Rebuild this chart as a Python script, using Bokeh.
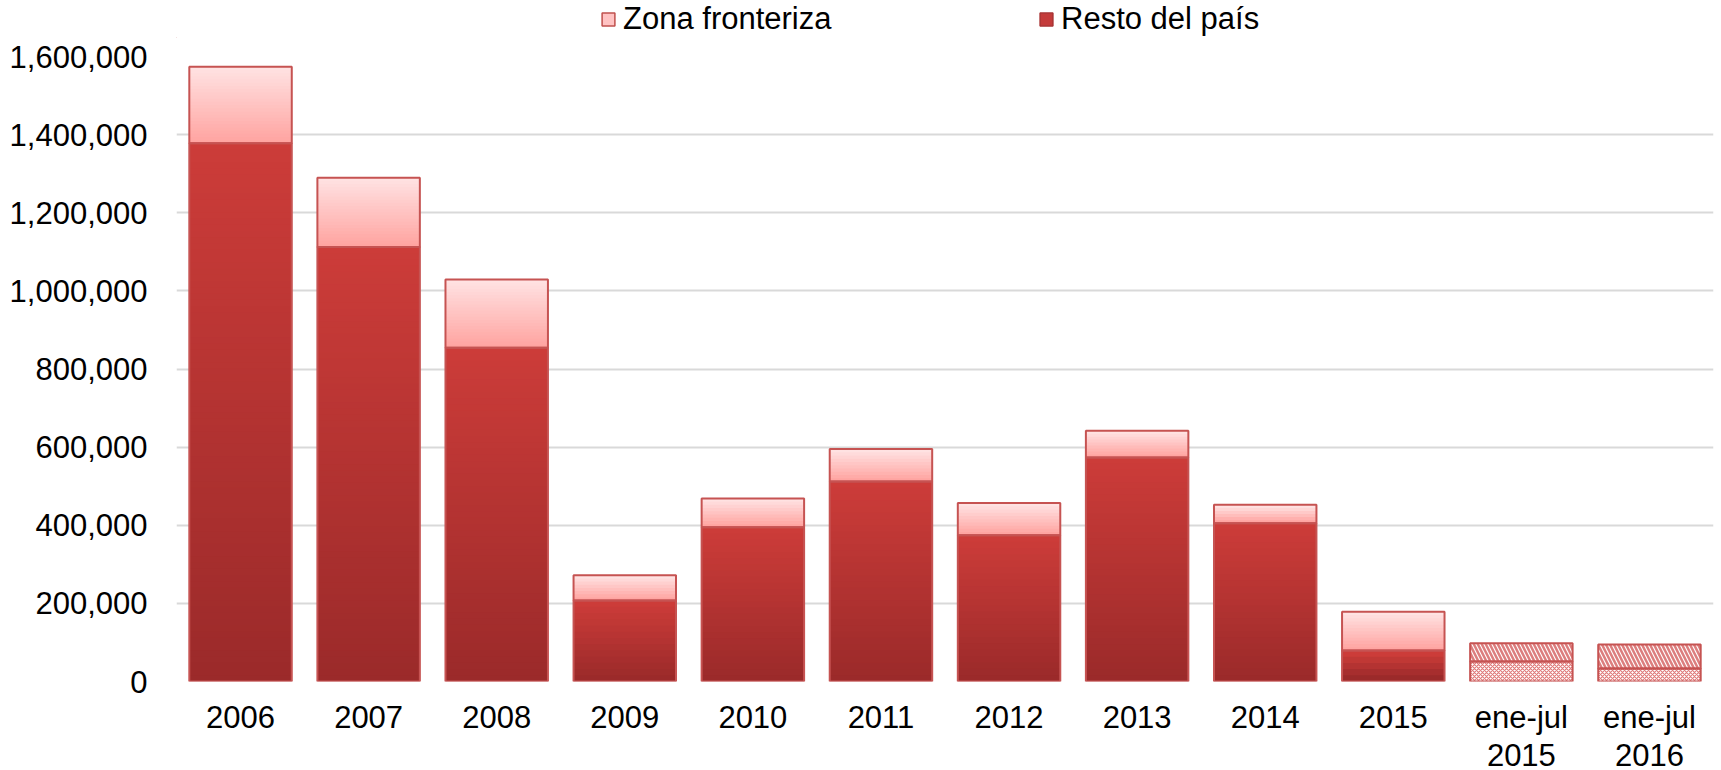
from bokeh.plotting import figure
from bokeh.layouts import column
from bokeh.models import (ColumnDataSource, FactorRange, Range1d, NumeralTickFormatter,
                          FixedTicker, Legend, LegendItem)
from bokeh.embed import file_html
from bokeh.resources import INLINE

# ---------------- data ----------------
categories = ["2006", "2007", "2008", "2009", "2010", "2011", "2012", "2013",
              "2014", "2015", "ene-jul\n2015", "ene-jul\n2016"]
resto_del_pais = [1377700, 1112500, 854200, 207200, 394600, 512300, 374200,
                  573700, 404900, 79300, 51200, 33200]
zona_fronteriza = [196000, 177300, 174700, 64700, 74200, 82800, 82800,
                   68300, 47800, 99000, 46800, 61400]
partial_period = [False] * 10 + [True, True]
y_ticks = [0, 200000, 400000, 600000, 800000, 1000000, 1200000, 1400000, 1600000]
legend_labels = ["Zona fronteriza", "Resto del país"]

# ---------------- styles ----------------
FONT = "Liberation Sans"
RESTO_TOP, RESTO_BOTTOM = (204, 60, 57), (155, 42, 42)
ZONA_TOP, ZONA_BOTTOM = (255, 226, 226), (255, 164, 161)
OUTLINE = "#C65352"
BAR_W = 0.8


def lerp(c1, c2, t):
    return "#%02x%02x%02x" % tuple(int(round(a + (b - a) * t)) for a, b in zip(c1, c2))


# ---------------- legend strip ----------------
lg = figure(width=1721, height=38, output_backend="svg", toolbar_location=None,
            x_range=Range1d(0, 1), y_range=Range1d(0, 1),
            x_axis_location=None, y_axis_location=None, min_border=0)
lg.grid.visible = False
lg.outline_line_color = None
# swatch carriers: one bar each, kept outside the strip's visible range
dz = lg.vbar(x=[-5], bottom=[-5], top=[-4], width=0.1, fill_color="#FFC3C3",
             line_color="#C0504D", line_width=1.5)
dr = lg.vbar(x=[-5], bottom=[-5], top=[-4], width=0.1, fill_color="#C43B3A",
             line_color="#A83232", line_width=1.5)
for rend, lab, vx in [(dz, legend_labels[0], 424), (dr, legend_labels[1], 862)]:
    leg = Legend(items=[LegendItem(label=lab, renderers=[rend])], location=(vx, 1),
                 orientation="horizontal", padding=0, margin=0, spacing=0,
                 glyph_width=16, glyph_height=16, label_standoff=7, label_height=36,
                 label_text_font=FONT, label_text_font_size="31px",
                 label_text_color="#000000", border_line_color=None,
                 background_fill_alpha=0)
    lg.add_layout(leg, "center")

# ---------------- main chart ----------------
p = figure(x_range=FactorRange(*categories), y_range=Range1d(0, 1600000),
           width=1721, height=739, output_backend="svg", toolbar_location=None,
           min_border_left=176, min_border_right=8, min_border_top=18, min_border_bottom=96)
p.outline_line_color = None
p.background_fill_color = "white"

# gradient slices (shading only, derived from the data arrays)
gx, gb, gt, gc = [], [], [], []
for cat, r, z, part in zip(categories, resto_del_pais, zona_fronteriza, partial_period):
    if part:
        continue
    n = max(3, round(r / 16000))
    for k in range(n):
        gx.append(cat); gb.append(r * k / n); gt.append(min(r, r * (k + 1.5) / n))
        gc.append(lerp(RESTO_BOTTOM, RESTO_TOP, k / (n - 1)))
    n = max(3, round(z / 8000))
    for k in range(n):
        gx.append(cat); gb.append(r + z * k / n); gt.append(min(r + z, r + z * (k + 1.5) / n))
        gc.append(lerp(ZONA_BOTTOM, ZONA_TOP, k / (n - 1)))

grad = ColumnDataSource(dict(x=gx, bottom=gb, top=gt, color=gc))
p.vbar(x="x", bottom="bottom", top="top", width=BAR_W, fill_color="color",
       line_color=None, source=grad)

# hatched bars for partial periods
hx = [c for c, pp in zip(categories, partial_period) if pp]
hr = [r for r, pp in zip(resto_del_pais, partial_period) if pp]
hz = [r + z for r, z, pp in zip(resto_del_pais, zona_fronteriza, partial_period) if pp]
p.vbar(x=hx, bottom=0, top=hr, width=BAR_W, fill_color="white", line_color=None,
       hatch_pattern="diagonal_cross", hatch_scale=4, hatch_weight=1.2,
       hatch_color="#E07A7A")
p.vbar(x=hx, bottom=hr, top=hz, width=BAR_W, fill_color="white", line_color=None,
       hatch_pattern="left_diagonal_line", hatch_scale=8, hatch_weight=2.5,
       hatch_color="#DC7E7E")

# outlines
totals = [r + z for r, z in zip(resto_del_pais, zona_fronteriza)]
p.vbar(x=categories, bottom=0, top=resto_del_pais, width=BAR_W, fill_color=None,
       line_color=OUTLINE, line_width=2)
p.vbar(x=categories, bottom=resto_del_pais, top=totals, width=BAR_W, fill_color=None,
       line_color=OUTLINE, line_width=2)

# axes
p.yaxis.ticker = FixedTicker(ticks=y_ticks)
p.yaxis.formatter = NumeralTickFormatter(format="0,0")
p.yaxis.axis_line_color = None
p.yaxis.major_tick_line_color = None
p.yaxis.minor_tick_line_color = None
p.yaxis.major_tick_out = 0
p.yaxis.major_label_standoff = 29
p.yaxis.major_label_text_font = FONT
p.yaxis.major_label_text_font_size = "31px"
p.yaxis.major_label_text_color = "#000000"

p.xaxis.axis_line_color = None
p.xaxis.major_tick_line_color = None
p.xaxis.major_tick_out = 0
p.xaxis.major_label_standoff = 18
p.xaxis.major_label_text_font = FONT
p.xaxis.major_label_text_font_size = "31px"
p.xaxis.major_label_text_color = "#000000"
p.xaxis.major_label_text_line_height = 1.1

p.xgrid.grid_line_color = None
p.ygrid.ticker = FixedTicker(ticks=y_ticks)
p.ygrid.grid_line_color = "#D9D9D9"
p.ygrid.grid_line_width = 2

layout = column(lg, p, spacing=0)
open("out.html", "w").write(file_html(layout, INLINE))
